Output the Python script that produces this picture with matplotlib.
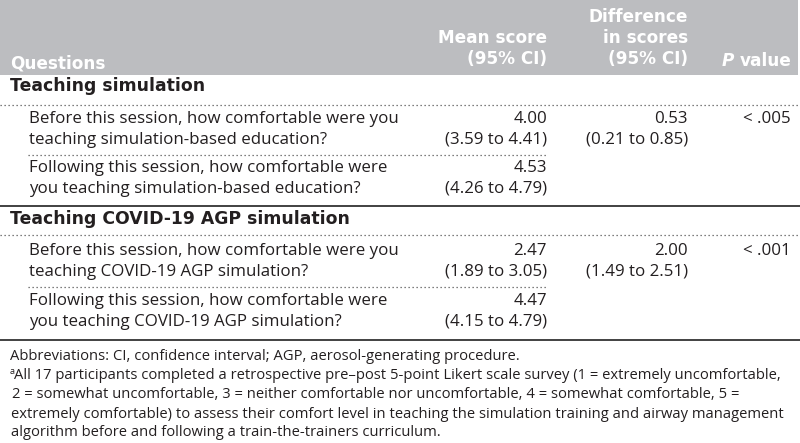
import matplotlib
matplotlib.use("Agg")
import matplotlib.pyplot as plt

plt.rcParams['font.family'] = ['Open Sans', 'DejaVu Sans']

# ---- data ----
header_question = "Questions"
header_mean = ["Mean score", "(95% CI)"]
header_diff = ["Difference", "in scores", "(95% CI)"]
header_p = ["P", "value"]
sections = ["Teaching simulation", "Teaching COVID-19 AGP simulation"]
questions = [
    ["Before this session, how comfortable were you", "teaching simulation-based education?"],
    ["Following this session, how comfortable were", "you teaching simulation-based education?"],
    ["Before this session, how comfortable were you", "teaching COVID-19 AGP simulation?"],
    ["Following this session, how comfortable were", "you teaching COVID-19 AGP simulation?"],
]
mean_scores = ["4.00", "4.53", "2.47", "4.47"]
mean_ci = ["(3.59 to 4.41)", "(4.26 to 4.79)", "(1.89 to 3.05)", "(4.15 to 4.79)"]
diff_scores = ["0.53", "2.00"]
diff_ci = ["(0.21 to 0.85)", "(1.49 to 2.51)"]
p_values = ["< .005", "< .001"]
footnotes = [
    "Abbreviations: CI, confidence interval; AGP, aerosol-generating procedure.",
    "All 17 participants completed a retrospective pre\u2013post 5-point Likert scale survey (1 = extremely uncomfortable,",
    "2 = somewhat uncomfortable, 3 = neither comfortable nor uncomfortable, 4 = somewhat comfortable, 5 =",
    "extremely comfortable) to assess their comfort level in teaching the simulation training and airway management",
    "algorithm before and following a train-the-trainers curriculum.",
]

W, H = 800, 443
fig = plt.figure(figsize=(W / 100, H / 100), dpi=100)
ax = fig.add_axes([0, 0, 1, 1])
ax.set_xlim(0, W)
ax.set_ylim(H, 0)
ax.axis('off')

txt = '#231f20'
hdr_bg = '#bcbdc0'
fs = 12.15
bfs = 12.2
sfs = 12.4
ffs = 10.65
bold_family = ['DejaVu Sans']

# header
ax.add_patch(plt.Rectangle((0, 0), 798, 75, color=hdr_bg, lw=0))
col_right = [None, 547, 688, 791]
ax.text(10, 63, header_question, color='white', fontsize=bfs, fontweight='bold',
        family=bold_family, va='center', ha='left')
for t, y in zip(header_mean, [38, 59]):
    ax.text(col_right[1], y, t, color='white', fontsize=bfs, fontweight='bold',
            family=bold_family, va='center', ha='right')
for t, y in zip(header_diff, [17, 38, 59]):
    ax.text(col_right[2], y, t, color='white', fontsize=bfs, fontweight='bold',
            family=bold_family, va='center', ha='right')
val = ax.text(col_right[3], 61, header_p[1], color='white', fontsize=bfs, fontweight='bold',
              family=bold_family, va='center', ha='right')
fig.canvas.draw()
r = fig.canvas.get_renderer()
bb = val.get_window_extent(renderer=r)
x0 = ax.transData.inverted().transform((bb.x0, bb.y0))[0]
ax.text(x0 - 5, 61, header_p[0], color='white', fontsize=bfs, fontweight='bold', style='italic',
        family=bold_family, va='center', ha='right')

# layout rows
sec_y = [86, 219]
row_y = [119, 168, 251, 301]
line2 = 20.5
dot_full = [105, 235]
dot_inner = [155, 287]
solid = [206, 340]

for s, y in zip(sections, sec_y):
    ax.text(10, y, s, color=txt, fontsize=sfs, fontweight='bold', family=bold_family,
            va='center', ha='left')

for i, (q, m, c) in enumerate(zip(questions, mean_scores, mean_ci)):
    y = row_y[i]
    ax.text(29, y, q[0], color=txt, fontsize=fs, va='center', ha='left')
    ax.text(29, y + line2, q[1], color=txt, fontsize=fs, va='center', ha='left')
    ax.text(col_right[1], y, m, color=txt, fontsize=fs, va='center', ha='right')
    ax.text(col_right[1], y + line2, c, color=txt, fontsize=fs, va='center', ha='right')

for j in range(2):
    y = row_y[2 * j]
    ax.text(col_right[2], y, diff_scores[j], color=txt, fontsize=fs, va='center', ha='right')
    ax.text(col_right[2], y + line2, diff_ci[j], color=txt, fontsize=fs, va='center', ha='right')
    ax.text(col_right[3], y, p_values[j], color=txt, fontsize=fs, va='center', ha='right')

for y in dot_full:
    ax.plot([0, 800], [y, y], color='#555555', lw=0.9, ls=(0, (1, 2.2)))
for y in dot_inner:
    ax.plot([28, 548], [y, y], color='#555555', lw=0.9, ls=(0, (1, 2.2)))
for y in solid:
    ax.plot([0, 800], [y, y], color='#333333', lw=1.3)

# footnotes
fy = [356, 375.5, 395, 414.5, 433]
fx = [10, 14, 12, 11, 11]
for k, (t, y, x) in enumerate(zip(footnotes, fy, fx)):
    if k == 1:
        ax.text(9.5, y - 4, 'a', color=txt, fontsize=ffs * 0.6, va='center', ha='left')
    ax.text(x, y, t, color=txt, fontsize=ffs, va='center', ha='left')

fig.savefig('out.png', dpi=100)
